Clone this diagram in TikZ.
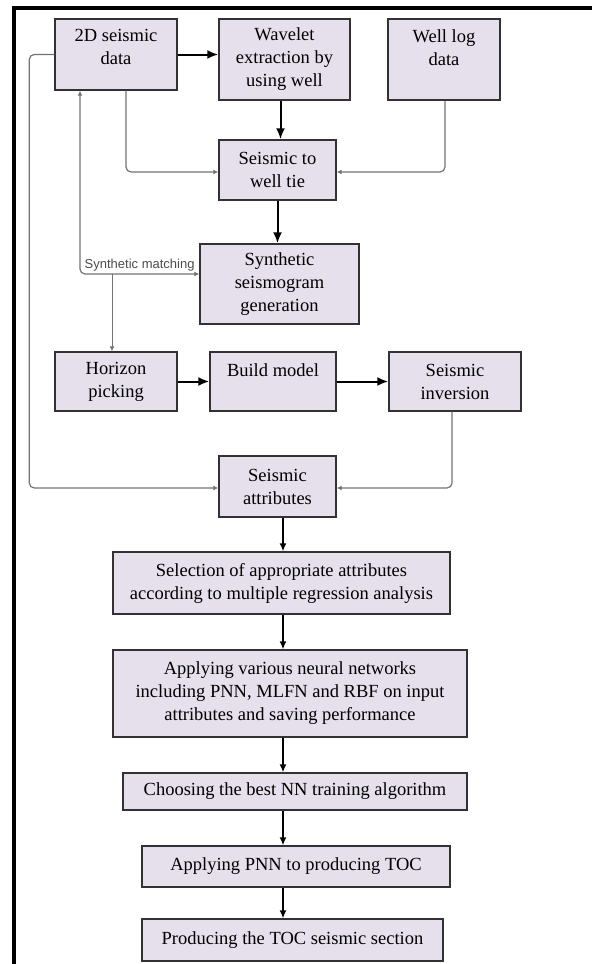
\documentclass[tikz,border=0pt]{standalone}
\usepackage{fontspec}
\setmainfont{Liberation Serif}
\newfontfamily\labelfont{Liberation Sans}
\usepackage{xcolor}
\usepackage{tikz}
\usetikzlibrary{arrows, arrows.meta, calc}
\definecolor{boxfill}{RGB}{229,224,236}
\definecolor{boxline}{RGB}{50,50,50}
\definecolor{linkgray}{RGB}{115,115,115}
\begin{document}
\begin{tikzpicture}[x=1pt, y=-1pt,
    block/.style={rectangle, draw=boxline, line width=1.4pt, fill=boxfill, inner sep=0pt, align=center, font=\fontsize{18.5}{23}\selectfont},
    arrow/.style={-{Latex[length=11pt,width=9pt]}, line width=2pt, black},
    flow/.style={-{Latex[length=8pt,width=7pt]}, line width=1.4pt, black},
    link/.style={-{Latex[length=5pt,width=5pt]}, line width=1.2pt, linkgray, rounded corners=5pt}
]
    \useasboundingbox (0,0) rectangle (592,964);
    \draw[line width=3.5pt] (14,964) -- (14,8) -- (592,8);

    \node[block, minimum width=122pt, minimum height=71pt] (seis2d) at (116,54.5) {2D seismic\\data\\[-8pt]~};
    \node[block, minimum width=131pt, minimum height=81pt] (wavelet) at (284.5,59.5) {Wavelet\\extraction by\\using well};
    \node[block, minimum width=112pt, minimum height=81pt] (welllog) at (444,59.5) {Well log\\data\\~};
    \node[block, minimum width=117pt, minimum height=60pt] (tie) at (277.5,170) {Seismic to\\well tie};
    \node[block, minimum width=159pt, minimum height=80pt] (synth) at (279.5,284) {Synthetic\\seismogram\\generation};

    \node[block, minimum width=122pt, minimum height=59pt] (horizon) at (116,381.5) {Horizon\\picking};
    \node[block, minimum width=126pt, minimum height=59pt] (build) at (273,381.5) {Build model\\~};
    \node[block, minimum width=132pt, minimum height=59pt] (inversion) at (455,381.5) {Seismic\\inversion};
    \node[block, minimum width=117pt, minimum height=61pt] (attrib) at (277.5,486.5) {Seismic\\attributes};

    \node[block, minimum width=337pt, minimum height=62pt] (select) at (281.5,583) {Selection of appropriate attributes\\according to multiple regression analysis};
    \node[block, minimum width=354pt, minimum height=87pt] (neural) at (290,693.5) {Applying various neural networks\\including PNN, MLFN and RBF on input\\attributes and saving performance};
    \node[block, minimum width=344pt, minimum height=37pt] (choose) at (295,791.5) {Choosing the best NN training algorithm};
    \node[block, minimum width=308pt, minimum height=41pt] (applypnn) at (296,866.5) {Applying PNN to producing TOC};
    \node[block, minimum width=301pt, minimum height=42pt] (produce) at (292.5,940) {Producing the TOC seismic section};

    \coordinate (match) at (80,274);
    \coordinate (spine) at (283,0);

    \draw[arrow] (seis2d.east) -- (seis2d.east -| wavelet.west);
    \draw[arrow] ([xshift=-4pt]wavelet.south) -- ([xshift=-4pt]wavelet.south |- tie.north);
    \draw[link] ([xshift=10pt]seis2d.south) |- ([yshift=-2pt]tie.west);
    \draw[link] ([xshift=1pt]welllog.south) |- ([yshift=-2pt]tie.east);
    \draw[arrow] (tie.south) -- (tie.south |- synth.north);

    \draw[link, {Latex[length=5pt,width=5pt]}-{Latex[length=5pt,width=5pt]}] (match |- seis2d.south) -- (match) -- node[above, pos=0.5, font=\labelfont\fontsize{13}{15}\selectfont, text=black!70, inner sep=2pt] {Synthetic matching} (synth.west |- match);
    \draw[link, line width=1pt] ([xshift=-4pt]horizon.north |- match) -- ([xshift=-4pt]horizon.north);
    \draw[link] (seis2d.west) -- ++(-25,0) |- ([yshift=-1.5pt]attrib.west);

    \draw[arrow] (horizon) -- (build);
    \draw[arrow] (build) -- (inversion);
    \draw[link] ([xshift=-3pt]inversion.south) |- ([yshift=-1.5pt]attrib.east);

    \draw[flow] (attrib.south -| spine) -- (select.north -| spine);
    \draw[flow] (select.south -| spine) -- (neural.north -| spine);
    \draw[flow] (neural.south -| spine) -- (choose.north -| spine);
    \draw[flow] (choose.south -| spine) -- (applypnn.north -| spine);
    \draw[flow] (applypnn.south -| spine) -- (produce.north -| spine);
\end{tikzpicture}
\end{document}
